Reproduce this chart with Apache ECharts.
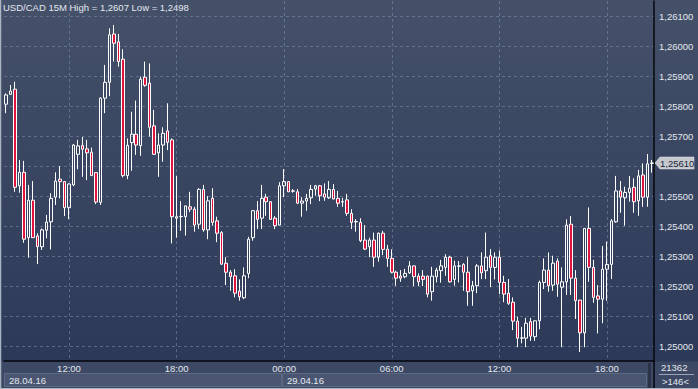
<!DOCTYPE html>
<html><head><meta charset="utf-8">
<script src="https://cdn.jsdelivr.net/npm/echarts@6/dist/echarts.min.js"></script>
<style>html,body{margin:0;padding:0;background:#2f3c5a;overflow:hidden}#c{width:698px;height:389px}</style>
</head><body><div id="c"></div>
<script>
const symbolName = 'USD/CAD';
const timeframe = '15M';
const startUTC = Date.UTC(2016, 3, 28, 8, 30); // first bar 28.04.16 08:30
const barMinutes = 15;
const labelHours = [0, 6, 12, 18];
const footerCount = '21362';
const footerBars = '>146<';

const openP = [1.25806,1.25839,1.25856,1.25534,1.25579,1.25361,1.25486,1.25367,1.25331,1.25386,
1.25414,1.25496,1.25556,1.25548,1.25461,1.25537,1.25639,1.25668,1.25657,1.25646,
1.25578,1.25479,1.25826,1.25879,1.26040,1.26014,1.25956,1.25568,1.25678,1.25706,
1.25668,1.25896,1.25876,1.25734,1.25644,1.25670,1.25717,1.25687,1.25426,1.25431,
1.25431,1.25464,1.25456,1.25406,1.25522,1.25387,1.25492,1.25417,1.25378,1.25276,
1.25246,1.25234,1.25183,1.25161,1.25242,1.25361,1.25451,1.25426,1.25496,1.25481,
1.25426,1.25403,1.25534,1.25548,1.25517,1.25514,1.25476,1.25483,1.25494,1.25523,
1.25534,1.25507,1.25494,1.25522,1.25492,1.25480,1.25487,1.25442,1.25414,1.25412,
1.25353,1.25331,1.25353,1.25296,1.25376,1.25323,1.25292,1.25246,1.25233,1.25231,
1.25244,1.25267,1.25233,1.25233,1.25233,1.25181,1.25231,1.25251,1.25262,1.25296,
1.25222,1.25266,1.25272,1.25246,1.25184,1.25201,1.25267,1.25251,1.25301,1.25262,
1.25296,1.25212,1.25176,1.25146,1.25083,1.25026,1.25026,1.25081,1.25031,1.25084,
1.25212,1.25253,1.25203,1.25283,1.25196,1.25214,1.25406,1.25226,1.25153,1.25044,
1.25392,1.25262,1.25167,1.25156,1.25256,1.25272,1.25414,1.25517,1.25494,1.25512,
1.25529,1.25484,1.25570,1.25496,1.25609];
const closeP = [1.25837,1.25850,1.25529,1.25579,1.25356,1.25486,1.25361,1.25331,1.25387,1.25413,
1.25492,1.25550,1.25548,1.25461,1.25540,1.25670,1.25667,1.25656,1.25644,1.25568,
1.25480,1.25826,1.25879,1.26037,1.26009,1.25948,1.25568,1.25669,1.25706,1.25670,
1.25889,1.25869,1.25729,1.25639,1.25670,1.25709,1.25679,1.25431,1.25431,1.25432,
1.25467,1.25456,1.25403,1.25522,1.25387,1.25484,1.25412,1.25376,1.25273,1.25246,
1.25231,1.25176,1.25164,1.25234,1.25356,1.25451,1.25422,1.25492,1.25481,1.25422,
1.25401,1.25534,1.25548,1.25514,1.25516,1.25476,1.25483,1.25492,1.25522,1.25534,
1.25501,1.25496,1.25522,1.25490,1.25476,1.25481,1.25442,1.25412,1.25415,1.25351,
1.25323,1.25353,1.25296,1.25376,1.25322,1.25292,1.25246,1.25226,1.25226,1.25242,
1.25267,1.25231,1.25214,1.25222,1.25173,1.25233,1.25253,1.25267,1.25296,1.25214,
1.25267,1.25267,1.25246,1.25181,1.25201,1.25267,1.25244,1.25296,1.25262,1.25296,
1.25212,1.25173,1.25142,1.25083,1.25026,1.25027,1.25076,1.25033,1.25084,1.25212,
1.25253,1.25201,1.25276,1.25206,1.25214,1.25403,1.25226,1.25151,1.25044,1.25392,
1.25262,1.25162,1.25156,1.25256,1.25272,1.25417,1.25517,1.25496,1.25512,1.25526,
1.25481,1.25567,1.25496,1.25607,1.25610];
const highP = [1.25842,1.25870,1.25881,1.25620,1.25617,1.25537,1.25550,1.25376,1.25392,1.25437,
1.25509,1.25579,1.25600,1.25550,1.25542,1.25673,1.25687,1.25697,1.25687,1.25661,
1.25579,1.25829,1.25937,1.26059,1.26070,1.26040,1.25989,1.25692,1.25781,1.25818,
1.25898,1.25948,1.25942,1.25787,1.25709,1.25729,1.25809,1.25692,1.25567,1.25483,
1.25468,1.25514,1.25464,1.25526,1.25537,1.25500,1.25526,1.25431,1.25383,1.25296,
1.25253,1.25256,1.25222,1.25262,1.25364,1.25453,1.25483,1.25537,1.25507,1.25482,
1.25433,1.25546,1.25590,1.25550,1.25523,1.25523,1.25496,1.25507,1.25537,1.25537,
1.25537,1.25542,1.25550,1.25540,1.25517,1.25494,1.25507,1.25456,1.25423,1.25426,
1.25403,1.25361,1.25378,1.25378,1.25384,1.25337,1.25322,1.25251,1.25253,1.25257,
1.25283,1.25268,1.25242,1.25253,1.25234,1.25264,1.25261,1.25287,1.25306,1.25301,
1.25284,1.25283,1.25276,1.25296,1.25217,1.25273,1.25312,1.25378,1.25323,1.25312,
1.25318,1.25234,1.25223,1.25162,1.25098,1.25064,1.25094,1.25094,1.25085,1.25218,
1.25292,1.25312,1.25301,1.25292,1.25262,1.25422,1.25433,1.25253,1.25154,1.25393,
1.25462,1.25287,1.25203,1.25333,1.25348,1.25423,1.25567,1.25550,1.25531,1.25567,
1.25559,1.25587,1.25609,1.25640,1.25620];
const lowP = [1.25776,1.25837,1.25514,1.25511,1.25344,1.25294,1.25360,1.25273,1.25320,1.25359,
1.25322,1.25470,1.25492,1.25433,1.25423,1.25533,1.25589,1.25564,1.25553,1.25567,
1.25473,1.25470,1.25776,1.25833,1.25948,1.25931,1.25562,1.25556,1.25584,1.25637,
1.25634,1.25864,1.25698,1.25637,1.25564,1.25614,1.25653,1.25342,1.25361,1.25384,
1.25368,1.25446,1.25381,1.25390,1.25381,1.25356,1.25401,1.25346,1.25270,1.25203,
1.25184,1.25162,1.25151,1.25156,1.25226,1.25351,1.25390,1.25390,1.25434,1.25420,
1.25390,1.25402,1.25496,1.25513,1.25511,1.25473,1.25431,1.25451,1.25473,1.25501,
1.25483,1.25484,1.25490,1.25489,1.25464,1.25464,1.25434,1.25390,1.25381,1.25346,
1.25320,1.25296,1.25264,1.25281,1.25303,1.25264,1.25242,1.25201,1.25214,1.25226,
1.25240,1.25200,1.25200,1.25200,1.25162,1.25151,1.25212,1.25211,1.25234,1.25211,
1.25201,1.25212,1.25184,1.25134,1.25134,1.25176,1.25223,1.25223,1.25196,1.25222,
1.25173,1.25146,1.25137,1.25053,1.24996,1.25009,1.24996,1.25017,1.25017,1.25056,
1.25190,1.25181,1.25184,1.25164,1.24996,1.25170,1.25170,1.25090,1.24980,1.24996,
1.25214,1.25144,1.25042,1.25076,1.25151,1.25223,1.25411,1.25444,1.25401,1.25481,
1.25444,1.25434,1.25464,1.25464,1.25578];

function pad(n){ return (n < 10 ? '0' : '') + n; }
const categories = openP.map(function(_, i){
  const d = new Date(startUTC + i * barMinutes * 60000);
  return pad(d.getUTCDate()) + '.' + pad(d.getUTCMonth() + 1) + '.' + String(d.getUTCFullYear()).slice(2) +
    ' ' + pad(d.getUTCHours()) + ':' + pad(d.getUTCMinutes());
});
const candles = openP.map(function(o, i){ return [o, closeP[i], lowP[i], highP[i]]; });
const lastClose = closeP[closeP.length - 1];

const fmt5 = function(v){ return v.toFixed(5).replace('.', ','); };
const fmt4 = function(v){ return v.toFixed(4).replace('.', ','); };
const labelInterval = function(idx, val){
  const t = String(val).slice(9);
  const h = parseInt(t.slice(0, 2), 10);
  return t.slice(3) === '00' && labelHours.indexOf(h) >= 0;
};

const FONT = 'Liberation Sans';
const TXT = '#e3e8f0';
const GRIDC = 'rgba(128,142,172,0.55)';
const F = '9.5px "' + FONT + '"';

const chart = echarts.init(document.getElementById('c'), null, {renderer: 'svg'});
const option = {
  animation: false,
  backgroundColor: {type: 'linear', x: 0, y: 0, x2: 0, y2: 1,
    colorStops: [{offset: 0, color: '#455169'}, {offset: 1, color: '#2a3757'}]},
  title: {
    text: symbolName + ' ' + timeframe + ' High = ' + fmt4(Math.max.apply(null, highP)) +
      ' Low = ' + fmt4(Math.min.apply(null, lowP)),
    left: 3, top: 2, padding: 0,
    textStyle: {color: TXT, fontSize: 9.5, fontWeight: 'normal', fontFamily: FONT}
  },
  grid: {left: 4, right: 44, top: 1, height: 360, containLabel: false},
  xAxis: {
    type: 'category', data: categories, boundaryGap: true,
    axisLine: {show: true, lineStyle: {color: '#05070c', width: 1.5}},
    axisTick: {show: false},
    axisLabel: {interval: labelInterval, formatter: function(v){ return v.slice(9); },
      color: TXT, fontSize: 9.5, fontFamily: FONT, margin: 2},
    splitLine: {show: true, interval: labelInterval, alignWithLabel: true,
      lineStyle: {color: GRIDC, type: [3, 3], width: 1}}
  },
  yAxis: {
    type: 'value', position: 'right', min: 1.2495, max: 1.2615, splitNumber: 12,
    axisLine: {show: true, lineStyle: {color: '#05070c', width: 1.5}},
    axisTick: {show: false},
    axisLabel: {formatter: function(v){ return Math.abs(v - lastClose) < 0.0005 ? '' : fmt5(v); },
      showMinLabel: false, showMaxLabel: false,
      color: TXT, fontSize: 9.5, fontFamily: FONT, margin: 5},
    splitLine: {show: true, showMinLine: false, showMaxLine: false,
      lineStyle: {color: GRIDC, type: [3, 3], width: 1}}
  },
  series: [{
    type: 'candlestick', data: candles, barWidth: 3,
    itemStyle: {color: 'rgba(0,0,0,0)', color0: '#e0143c',
      borderColor: '#ffffff', borderColor0: '#ffffff', borderWidth: 1},
    emphasis: {disabled: true}
  }]
};
chart.setOption(option);

// decorations derived from axes
const px = function(i){ return chart.convertToPixel({xAxisIndex: 0}, categories[i]); };
const band = px(1) - px(0);
const axisX = px(categories.length - 1) + band / 2;
const tagY = chart.convertToPixel({yAxisIndex: 0}, lastClose);
const g = [];
function txt(s, x, y, fill){
  return {type: 'text', z: 5, x: x, y: y, style: {text: s, fill: fill || TXT, font: F,
    align: 'left', textAlign: 'left', verticalAlign: 'middle', textVerticalAlign: 'middle'}};
}
// bottom panel
g.push({type: 'rect', z: -10, shape: {x: 0, y: 361.5, width: axisX, height: 27}, style: {fill: '#3d4964'}});
// date boxes
const dates = [];
categories.forEach(function(c, i){
  const d = c.slice(0, 8);
  if (!dates.length || dates[dates.length - 1].d !== d) dates.push({d: d, s: i, e: i});
  else dates[dates.length - 1].e = i;
});
dates.forEach(function(dt){
  const x0 = px(dt.s) - band / 2;
  const x1 = Math.min(px(dt.e) + band / 2, axisX - 7);
  g.push({type: 'rect', z: -9, shape: {x: x0 + 0.5, y: 373.5, width: x1 - x0 - 1, height: 13},
    style: {fill: '#4a5671', stroke: '#5e6b85', lineWidth: 1}});
  g.push(txt(dt.d, x0 + 5, 380));
});
// scrollbar-like divider
g.push({type: 'rect', z: 5, shape: {x: axisX - 6, y: 363, width: 3, height: 25}, style: {fill: '#2a3347'}});
// vertical axis line extension
g.push({type: 'line', z: 6, shape: {x1: axisX, y1: 361, x2: axisX, y2: 389}, style: {stroke: '#05070c', lineWidth: 1.5}});
// bottom right info box
g.push({type: 'rect', z: -9, shape: {x: axisX + 1, y: 361.5, width: 698 - axisX, height: 27}, style: {fill: '#3d4964'}});
g.push(txt(footerCount, axisX + 7, 367.5));
g.push({type: 'line', z: 5, shape: {x1: axisX + 5, y1: 374.5, x2: axisX + 40, y2: 374.5}, style: {stroke: '#9aa4b6', lineWidth: 1}});
g.push(txt(footerBars, axisX + 8, 381));
// frame
g.push({type: 'line', z: 7, shape: {x1: 0.5, y1: 0, x2: 0.5, y2: 389}, style: {stroke: '#aab3c2', lineWidth: 1.5}});
g.push({type: 'line', z: 7, shape: {x1: 0, y1: 388.5, x2: 698, y2: 388.5}, style: {stroke: '#aab3c2', lineWidth: 1}});
// last price tag
g.push({type: 'polygon', z: 8, shape: {points: [[axisX + 1, tagY], [axisX + 6, tagY - 6], [axisX + 40, tagY - 6], [axisX + 40, tagY + 6], [axisX + 6, tagY + 6]]},
  style: {fill: '#c5c9cf', stroke: '#e6e8eb', lineWidth: 0.5}});
const tag = txt(fmt5(lastClose), axisX + 6, tagY, '#1c2436'); tag.z = 9;
g.push(tag);
chart.setOption({graphic: g});
</script></body></html>
